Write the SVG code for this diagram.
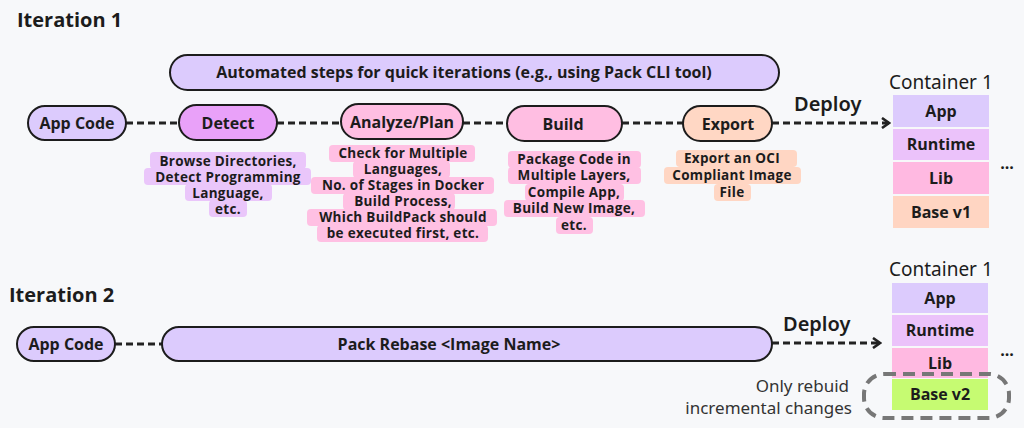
<svg xmlns="http://www.w3.org/2000/svg" width="1024" height="428" viewBox="0 0 1024 428">
<defs>
<style>
.bg{fill:#f7f8fa}
.pill{stroke:#1c1c1c;stroke-width:2}
.lav{fill:#dccbfd}
.vio{fill:#e9a1f9}
.pink{fill:#ffbee2}
.peach{fill:#ffd7c4}
.lbl{font-family:"Open Sans","Noto Sans",sans-serif;font-weight:700;fill:#1c1c1c;text-anchor:middle}
.pl{font-size:16px}
.cap{font-size:13.5px;letter-spacing:0.3px}
.h{font-family:"Open Sans","Noto Sans",sans-serif;font-weight:700;font-size:20px;fill:#1c1c1c}
.dep{font-family:"Noto Sans","Open Sans",sans-serif;font-weight:600;font-size:20px;fill:#1c1c1c}
.ctn{font-family:"Noto Sans","Open Sans",sans-serif;font-weight:400;font-size:19px;fill:#1c1c1c}
.note{font-family:"Noto Sans","Open Sans",sans-serif;font-weight:400;font-size:17px;fill:#333;text-anchor:end}
.conn{stroke:#222;stroke-width:3;stroke-dasharray:7 4;fill:none}
.hl-v{fill:#eac6fa}
.hl-p{fill:#ffc0e3}
.hl-o{fill:#ffd6c3}
</style>
<marker id="arr" viewBox="0 0 10 12" refX="8" refY="6" markerWidth="10" markerHeight="12" markerUnits="userSpaceOnUse" orient="auto">
<path d="M1,1 L8,6 L1,11" fill="none" stroke="#222" stroke-width="2.6"/>
</marker>
</defs>
<rect class="bg" x="0" y="0" width="1024" height="428"/>

<text class="h" x="17" y="27">Iteration 1</text>
<text class="h" x="9" y="302">Iteration 2</text>

<g id="connectors">
<line class="conn" x1="126" y1="123" x2="179" y2="123"/>
<line class="conn" x1="277" y1="123" x2="341" y2="123"/>
<line class="conn" x1="463" y1="123" x2="507" y2="123"/>
<line class="conn" x1="622" y1="123" x2="683" y2="123"/>
<line class="conn" x1="772" y1="123" x2="889" y2="123" marker-end="url(#arr)"/>
<line class="conn" x1="115" y1="344" x2="162" y2="344"/>
<line class="conn" x1="772" y1="343" x2="880" y2="343" marker-end="url(#arr)"/>
</g>

<g id="automated">
<rect class="pill lav" x="170" y="55" width="609" height="35" rx="17.5"/>
<text class="lbl pl" x="464" y="78">Automated steps for quick iterations (e.g., using Pack CLI tool)</text>
</g>

<g id="appcode1">
<rect class="pill lav" x="28" y="106" width="98" height="34" rx="17"/>
<text class="lbl pl" x="77" y="128.5">App Code</text>
</g>

<g id="detect">
<rect class="pill vio" x="179" y="105" width="98" height="35" rx="17.5"/>
<text class="lbl pl" x="228" y="128.5">Detect</text>
</g>
<g id="detect-caption">
<rect class="hl-v" x="150" y="152" width="156" height="17" rx="4"/>
<rect class="hl-v" x="144" y="168" width="167" height="17" rx="4"/>
<rect class="hl-v" x="185" y="184" width="87" height="17" rx="4"/>
<rect class="hl-v" x="209" y="200" width="38" height="17" rx="4"/>
<text class="lbl cap" x="228" y="166">Browse Directories,</text>
<text class="lbl cap" x="228" y="182">Detect Programming</text>
<text class="lbl cap" x="228" y="198">Language,</text>
<text class="lbl cap" x="228" y="214">etc.</text>
</g>

<g id="analyze">
<rect class="pill pink" x="341" y="104" width="122" height="35" rx="17.5"/>
<text class="lbl pl" x="402" y="127.5">Analyze/Plan</text>
</g>
<g id="analyze-caption">
<rect class="hl-p" x="329" y="145" width="146" height="17" rx="4"/>
<rect class="hl-p" x="353" y="161" width="97" height="17" rx="4"/>
<rect class="hl-p" x="311" y="177" width="183" height="17" rx="4"/>
<rect class="hl-p" x="343" y="193" width="112" height="17" rx="4"/>
<rect class="hl-p" x="307" y="209" width="190" height="17" rx="4"/>
<rect class="hl-p" x="317" y="225" width="171" height="17" rx="4"/>
<text class="lbl cap" x="403" y="158">Check for Multiple</text>
<text class="lbl cap" x="403" y="174">Languages,</text>
<text class="lbl cap" x="403" y="190">No. of Stages in Docker</text>
<text class="lbl cap" x="403" y="206">Build Process,</text>
<text class="lbl cap" x="403" y="222">Which BuildPack should</text>
<text class="lbl cap" x="403" y="238">be executed first, etc.</text>
</g>

<g id="build">
<rect class="pill pink" x="507" y="106" width="115" height="35" rx="17.5"/>
<text class="lbl pl" x="563" y="129.5">Build</text>
</g>
<g id="build-caption">
<rect class="hl-p" x="508" y="151" width="133" height="17" rx="4"/>
<rect class="hl-p" x="508" y="167" width="133" height="17" rx="4"/>
<rect class="hl-p" x="525" y="184" width="99" height="17" rx="4"/>
<rect class="hl-p" x="504" y="200" width="141" height="17" rx="4"/>
<rect class="hl-p" x="556" y="217" width="37" height="17" rx="4"/>
<text class="lbl cap" x="574" y="164">Package Code in</text>
<text class="lbl cap" x="574" y="180">Multiple Layers,</text>
<text class="lbl cap" x="574" y="197">Compile App,</text>
<text class="lbl cap" x="574" y="213">Build New Image,</text>
<text class="lbl cap" x="574" y="230">etc.</text>
</g>

<g id="export">
<rect class="pill peach" x="683" y="106" width="89" height="35" rx="17.5"/>
<text class="lbl pl" x="728" y="129.5">Export</text>
</g>
<g id="export-caption">
<rect class="hl-o" x="676" y="150" width="121" height="17" rx="4"/>
<rect class="hl-o" x="664" y="167" width="137" height="17" rx="4"/>
<rect class="hl-o" x="714" y="184" width="37" height="17" rx="4"/>
<text class="lbl cap" x="732" y="163">Export an OCI</text>
<text class="lbl cap" x="732" y="180">Compliant Image</text>
<text class="lbl cap" x="732" y="197">File</text>
</g>

<text class="dep" x="794" y="111">Deploy</text>

<g id="container1">
<text class="ctn" x="889" y="89">Container 1</text>
<rect x="893" y="95" width="96" height="32" fill="#dccbfd"/>
<rect x="893" y="129" width="96" height="31" fill="#ebc2fa"/>
<rect x="893" y="162" width="96" height="32" fill="#ffb9e1"/>
<rect x="893" y="196" width="96" height="32" fill="#ffd5c2"/>
<text class="lbl pl" x="941" y="116.5">App</text>
<text class="lbl pl" x="941" y="150">Runtime</text>
<text class="lbl pl" x="941" y="183.5">Lib</text>
<text class="lbl pl" x="941" y="217.5">Base v1</text>
<text class="lbl pl" x="1007" y="169">...</text>
</g>

<g id="appcode2">
<rect class="pill lav" x="17" y="327" width="98" height="34" rx="17"/>
<text class="lbl pl" x="66" y="349.5">App Code</text>
</g>

<g id="packrebase">
<rect class="pill lav" x="162" y="327" width="610" height="34" rx="17"/>
<text class="lbl pl" x="449" y="349.5">Pack Rebase &lt;Image Name&gt;</text>
</g>

<text class="dep" x="783" y="331">Deploy</text>

<g id="container2">
<text class="ctn" x="889" y="276">Container 1</text>
<rect x="892" y="283" width="96" height="30" fill="#dccbfd"/>
<rect x="892" y="315" width="96" height="31" fill="#ebc2fa"/>
<rect x="892" y="348" width="96" height="30" fill="#ffb9e1"/>
<rect x="892" y="379" width="96" height="31" fill="#c6fb72"/>
<text class="lbl pl" x="940" y="303.5">App</text>
<text class="lbl pl" x="940" y="336">Runtime</text>
<text class="lbl pl" x="940" y="368.5">Lib</text>
<text class="lbl pl" x="940" y="400">Base v2</text>
<text class="lbl pl" x="1007" y="356">...</text>
<rect x="864" y="374" width="145" height="44" rx="20" fill="none" stroke="#777" stroke-width="4" stroke-dasharray="12 7"/>
</g>

<g id="note">
<text class="note" x="849" y="392">Only rebuid</text>
<text class="note" x="852" y="414">incremental changes</text>
</g>
</svg>
